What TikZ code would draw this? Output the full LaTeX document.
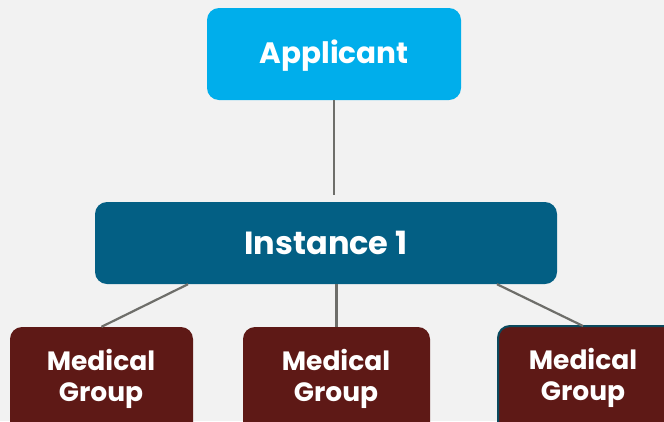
\documentclass[tikz,border=0pt]{standalone}
\usepackage{fontspec}
\setmainfont{Poppins}[BoldFont={* Bold}]
\definecolor{bg}{HTML}{F2F2F2}
\definecolor{appc}{HTML}{00AEEB}
\definecolor{instc}{HTML}{035F84}
\definecolor{medc}{HTML}{5E1916}
\definecolor{medb}{HTML}{0B4A5E}
\definecolor{linec}{HTML}{6E6E6A}
\begin{document}
\begin{tikzpicture}[x=1pt,y=-1pt,
  box/.style={rounded corners=12pt,inner sep=0pt,text=white,font=\bfseries,align=center},
  medtxt/.style={text=white,font=\bfseries\fontsize{26.5}{31}\selectfont,align=center,inner sep=0pt},
  conn/.style={draw=linec,line width=2.2pt}]
\clip (0,0) rectangle (664,421);
\fill[bg] (0,0) rectangle (664,421);
\node[box,fill=appc,minimum width=254pt,minimum height=92pt] (app) at (334,54) {};
\node[text=white,font=\bfseries\fontsize{29.5}{32}\selectfont,inner sep=0pt] (appt) at (334,56) {Applicant};
\node[box,fill=instc,minimum width=462pt,minimum height=82pt,font=\bfseries\fontsize{32}{34}\selectfont] (inst) at (326,243) {Instance 1};
\node[box,fill=medc,minimum width=183pt,minimum height=120pt] (m1) at (101.5,387) {};
\node[box,fill=medc,minimum width=187pt,minimum height=120pt] (m2) at (336.5,387) {};
\node[box,fill=medc,draw=medb,line width=2pt,minimum width=180pt,minimum height=120pt] (m3) at (588,386) {};
\node[medtxt] (t1) at (101,379) {Medical\\Group};
\node[medtxt] (t2) at (336,379) {Medical\\Group};
\node[medtxt] (t3) at (583,378) {Medical\\Group};
\draw[conn] (app.south) -- ([yshift=7pt]inst.north -| app.south);
\draw[conn] (inst.south -| 188,0) -- (m1.north);
\draw[conn] (inst.south -| m2.north) -- (m2.north);
\draw[conn] (inst.south -| 497,0) -- (583,326);
\end{tikzpicture}
\end{document}
